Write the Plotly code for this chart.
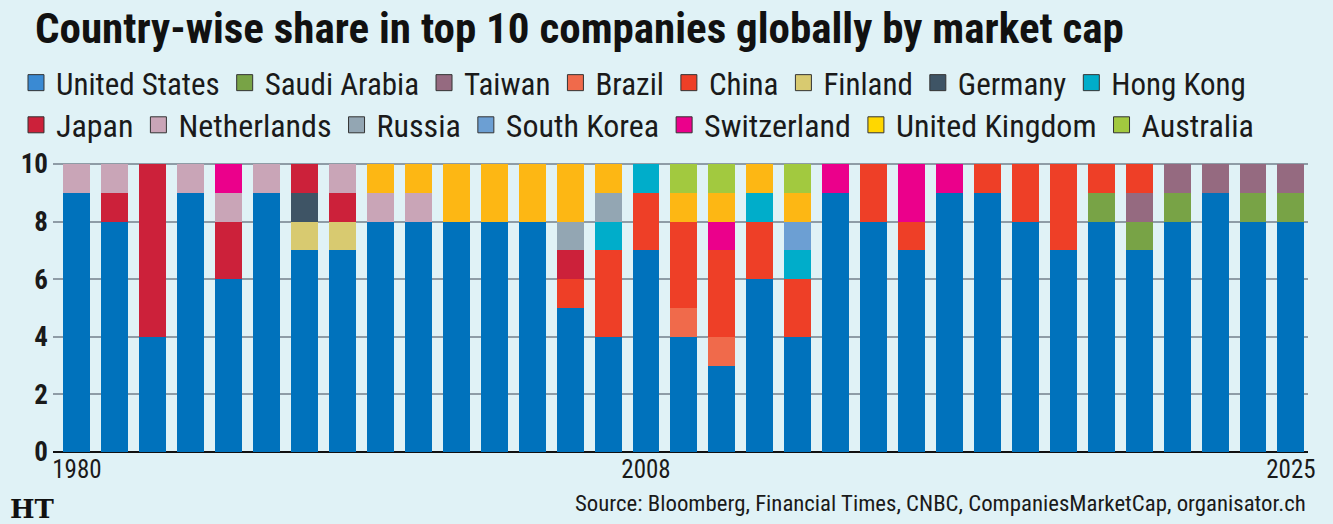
import plotly.graph_objects as go

# ---------------- data ----------------
years = ["1980", "1985", "1990", "1996", "1997", "1998", "1999", "2000", "2001", "2002",
         "2003", "2004", "2005", "2006", "2007", "2008", "2009", "2010", "2011", "2012",
         "2013", "2014", "2015", "2016", "2017", "2018", "2019", "2020", "2021", "2022",
         "2023", "2024", "2025"]

united_states  = [9, 8, 4, 9, 6, 9, 7, 7, 8, 8, 8, 8, 8, 5, 4, 7, 4, 3, 6, 4, 9, 8, 7, 9, 9, 8, 7, 8, 7, 8, 9, 8, 8]
saudi_arabia   = [0, 0, 0, 0, 0, 0, 0, 0, 0, 0, 0, 0, 0, 0, 0, 0, 0, 0, 0, 0, 0, 0, 0, 0, 0, 0, 0, 1, 1, 1, 0, 1, 1]
taiwan         = [0, 0, 0, 0, 0, 0, 0, 0, 0, 0, 0, 0, 0, 0, 0, 0, 0, 0, 0, 0, 0, 0, 0, 0, 0, 0, 0, 0, 1, 1, 1, 1, 1]
brazil         = [0, 0, 0, 0, 0, 0, 0, 0, 0, 0, 0, 0, 0, 0, 0, 0, 1, 1, 0, 0, 0, 0, 0, 0, 0, 0, 0, 0, 0, 0, 0, 0, 0]
china          = [0, 0, 0, 0, 0, 0, 0, 0, 0, 0, 0, 0, 0, 1, 3, 2, 3, 3, 2, 2, 0, 2, 1, 0, 1, 2, 3, 1, 1, 0, 0, 0, 0]
hong_kong      = [0, 0, 0, 0, 0, 0, 0, 0, 0, 0, 0, 0, 0, 0, 1, 1, 0, 0, 1, 1, 0, 0, 0, 0, 0, 0, 0, 0, 0, 0, 0, 0, 0]
south_korea    = [0, 0, 0, 0, 0, 0, 0, 0, 0, 0, 0, 0, 0, 0, 0, 0, 0, 0, 0, 1, 0, 0, 0, 0, 0, 0, 0, 0, 0, 0, 0, 0, 0]
finland        = [0, 0, 0, 0, 0, 0, 1, 1, 0, 0, 0, 0, 0, 0, 0, 0, 0, 0, 0, 0, 0, 0, 0, 0, 0, 0, 0, 0, 0, 0, 0, 0, 0]
germany        = [0, 0, 0, 0, 0, 0, 1, 0, 0, 0, 0, 0, 0, 0, 0, 0, 0, 0, 0, 0, 0, 0, 0, 0, 0, 0, 0, 0, 0, 0, 0, 0, 0]
japan          = [0, 1, 6, 0, 2, 0, 1, 1, 0, 0, 0, 0, 0, 1, 0, 0, 0, 0, 0, 0, 0, 0, 0, 0, 0, 0, 0, 0, 0, 0, 0, 0, 0]
netherlands    = [1, 1, 0, 1, 1, 1, 0, 1, 1, 1, 0, 0, 0, 0, 0, 0, 0, 0, 0, 0, 0, 0, 0, 0, 0, 0, 0, 0, 0, 0, 0, 0, 0]
russia         = [0, 0, 0, 0, 0, 0, 0, 0, 0, 0, 0, 0, 0, 1, 1, 0, 0, 0, 0, 0, 0, 0, 0, 0, 0, 0, 0, 0, 0, 0, 0, 0, 0]
switzerland    = [0, 0, 0, 0, 1, 0, 0, 0, 0, 0, 0, 0, 0, 0, 0, 0, 0, 1, 0, 0, 1, 0, 2, 1, 0, 0, 0, 0, 0, 0, 0, 0, 0]
united_kingdom = [0, 0, 0, 0, 0, 0, 0, 0, 1, 1, 2, 2, 2, 2, 1, 0, 1, 1, 1, 1, 0, 0, 0, 0, 0, 0, 0, 0, 0, 0, 0, 0, 0]
australia      = [0, 0, 0, 0, 0, 0, 0, 0, 0, 0, 0, 0, 0, 0, 0, 0, 1, 1, 0, 1, 0, 0, 0, 0, 0, 0, 0, 0, 0, 0, 0, 0, 0]

tick_years = ["1980", "2008", "2025"]

# stacking order (bottom -> top) with colour, legend row and legend rank
series = [
    ("United States",  united_states,  "#0072bc", 1, 1),
    ("Saudi Arabia",   saudi_arabia,   "#78a346", 1, 2),
    ("Taiwan",         taiwan,         "#956a80", 1, 3),
    ("Brazil",         brazil,         "#f06a4b", 1, 4),
    ("China",          china,          "#ee3f27", 1, 5),
    ("Hong Kong",      hong_kong,      "#00adca", 1, 8),
    ("South Korea",    south_korea,    "#6c9fd3", 2, 12),
    ("Finland",        finland,        "#d8ca70", 1, 6),
    ("Germany",        germany,        "#3e5465", 1, 7),
    ("Japan",          japan,          "#cc213a", 2, 9),
    ("Netherlands",    netherlands,    "#c9a5b7", 2, 10),
    ("Russia",         russia,         "#93a6b3", 2, 11),
    ("Switzerland",    switzerland,    "#eb008b", 2, 13),
    ("United Kingdom", united_kingdom, "#fdb714", 2, 14),
    ("Australia",      australia,      "#a2c93f", 2, 15),
]
legend_colors = {"United States": "#3a8ad3", "United Kingdom": "#ffd700"}

BG = "#e0f2f6"
FONT = ("Roboto Condensed, Noto Sans Condensed, Open Sans Condensed, "
        "Liberation Sans Narrow, Arial Narrow, Roboto, sans-serif")

fig = go.Figure()
for name, vals, color, row, rank in series:
    fig.add_trace(go.Bar(
        x=years, y=vals, name=name, marker_color=color, marker_line_width=0,
        legendgroup=name, showlegend=False,
        hovertemplate=name + ": %{y}<extra>%{x}</extra>",
    ))
for name, vals, color, row, rank in series:
    fig.add_trace(go.Scatter(
        x=[None], y=[None], mode="markers", name=name, legendgroup=name,
        legend="legend" if row == 1 else "legend2", legendrank=rank,
        marker=dict(symbol="square", size=20,
                    color=legend_colors.get(name, color),
                    line=dict(color="#333333", width=1)),
        showlegend=True,
    ))

legend_common = dict(
    orientation="h", xref="container", yref="container",
    xanchor="left", yanchor="middle", bgcolor="rgba(0,0,0,0)",
    itemsizing="trace", itemwidth=30, tracegroupgap=0,
)

fig.update_layout(
    width=1333, height=524,
    paper_bgcolor=BG, plot_bgcolor=BG,
    barmode="stack", bargap=0.29,
    margin=dict(l=53, r=25, t=161, b=72, autoexpand=False),
    font=dict(family=FONT, color="#1a1a1a"),
    legend=dict(x=0.012, y=1 - 83 / 524,
                font=dict(family=FONT, size=31, color="#1a1a1a"), **legend_common),
    legend2=dict(x=0.012, y=1 - 125 / 524,
                 font=dict(family=FONT, size=32, color="#1a1a1a"), **legend_common),
    xaxis=dict(
        type="category", range=[-0.63, 32.45],
        tickmode="array", tickvals=tick_years, ticktext=tick_years,
        showgrid=False, ticks="", showline=False, automargin=False,
        tickfont=dict(family=FONT, size=25, color="#1a1a1a"),
    ),
    yaxis=dict(
        range=[0, 10.1], tickvals=[0, 2, 4, 6, 8, 10],
        showgrid=True, gridcolor="#8e9ca6", gridwidth=1.5,
        zeroline=True, zerolinecolor="#111111", zerolinewidth=2,
        ticks="", ticklabelstandoff=4, automargin=False,
        tickfont=dict(family=FONT, size=27, color="#1a1a1a", weight="bold"),
    ),
    annotations=[
        dict(text="<b>Country-wise share in top 10 companies globally by market cap</b>",
             xref="paper", yref="paper", x=-0.016, y=1 + 133 / 291, xanchor="left",
             yanchor="middle", showarrow=False,
             font=dict(family=FONT, size=43, color="#111111")),
        dict(text="Source: Bloomberg, Financial Times, CNBC, CompaniesMarketCap, organisator.ch",
             xref="paper", yref="paper", x=1.0, y=-51 / 291, xanchor="right",
             yanchor="middle", showarrow=False,
             font=dict(family=FONT, size=22.8, color="#1a1a1a")),
        dict(text="<b>HT</b>",
             xref="paper", yref="paper", x=-0.036, y=-57 / 291, xanchor="left",
             yanchor="middle", showarrow=False,
             font=dict(family="DejaVu Serif, serif", size=26, color="#111111")),
    ],
)

fig.write_html("out.html")
